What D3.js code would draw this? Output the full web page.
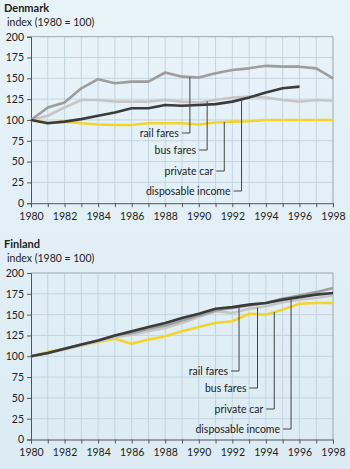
<!DOCTYPE html>
<html>
<head>
<meta charset="utf-8">
<script src="https://cdn.jsdelivr.net/npm/d3@7"></script>
<style>
  html, body { margin: 0; padding: 0; background: #e0eef6; }
  svg { display: block; font-family: Lato, "Open Sans", sans-serif; }
</style>
</head>
<body>
<div id="chart"></div>
<script>
// --- Data ---
const years = d3.range(1980, 1999);
const yTicks = [0, 25, 50, 75, 100, 125, 150, 175, 200];
const xTickLabels = [1980, 1982, 1984, 1986, 1988, 1990, 1992, 1994, 1996, 1998];
const seriesNames = ["rail fares", "bus fares", "private car", "disposable income"];

const dkRail   = [100, 115, 121, 138, 149, 144, 146, 146, 157, 152, 151, 156, 160, 162, 165, 164, 164, 162, 150];
const dkBus    = [100, 105, 115, 124, 124, 122, 122, 122, 124, 122, 121, 124, 127, 128, 127, 124, 122, 124, 123];
const dkCar    = [100, 97, 98, 96, 94.5, 94, 94, 96, 96, 96, 94.5, 97, 98, 98.5, 100, 100, 100, 100, 100];
const dkIncome = [100, 96, 98, 101, 105, 109, 114, 114, 118, 117, 118, 119, 122, 127, 133, 138, 140, null, null];

const fiRail   = [100, 104, 109, 114, 119, 125, 128, 133, 137, 143, 149, 155, 158, 161, 164, 169, 173, 177, 182];
const fiBus    = [100, 104, 108, 113, 118, 123, 126, 130, 134, 140, 147, 154, 152, 157, 160, 165, 168, 170, 173];
const fiCar    = [100, 105, 109, 113, 117, 121, 115, 120, 124, 130, 135, 140, 142, 151, 150, 156, 163, 164, 164];
const fiIncome = [100, 104, 109, 114, 119, 125, 130, 135, 140, 146, 151, 157, 159, 162, 164, 168, 171, 174, 176];

const colors = { "rail fares": "#9d9d9d", "bus fares": "#c6c6c6", "private car": "#f1d52c", "disposable income": "#3b3b3b" };
const drawOrder = ["private car", "bus fares", "rail fares", "disposable income"];

const width = 350, height = 469;
const svg = d3.select("#chart").append("svg")
  .attr("width", width)
  .attr("height", height);

const grad = svg.append("defs").append("linearGradient")
  .attr("id", "bg").attr("x1", 0).attr("y1", 0).attr("x2", 0).attr("y2", 1);
grad.append("stop").attr("offset", 0).attr("stop-color", "#e8f3f9");
grad.append("stop").attr("offset", 1).attr("stop-color", "#dcebf4");
svg.append("rect").attr("width", width).attr("height", height).attr("fill", "url(#bg)");

function drawPanel(opts) {
  const { title, top, data, leaderYears, labelYs } = opts;
  const x = d3.scaleLinear().domain([1980, 1998]).range([31, 333]);
  const y = d3.scaleLinear().domain([0, 200]).range([top + 166.5, top]);
  const g = svg.append("g");

  // titles
  g.append("text").attr("x", 4).attr("y", top - 25)
    .attr("font-size", 11).attr("font-weight", "bold").attr("fill", "#222").text(title);
  g.append("text").attr("x", 7).attr("y", top - 11)
    .attr("font-size", 10.5).attr("fill", "#222").text("index (1980 = 100)");

  // grid
  g.append("g").selectAll("line").data(years.slice(1, -1)).join("line")
    .attr("x1", d => x(d)).attr("x2", d => x(d))
    .attr("y1", y(0)).attr("y2", y(200))
    .attr("stroke", "#c4d4de").attr("stroke-width", 1);
  g.append("g").selectAll("line").data(yTicks.slice(1, -1)).join("line")
    .attr("x1", x(1980)).attr("x2", x(1998))
    .attr("y1", d => y(d)).attr("y2", d => y(d))
    .attr("stroke", "#c4d4de").attr("stroke-width", 1);

  // frame top/right
  g.append("path")
    .attr("d", `M${x(1980)},${y(200)}H${x(1998)}V${y(0)}`)
    .attr("fill", "none").attr("stroke", "#9aa6ad").attr("stroke-width", 1);

  // axes
  const xAxis = g.append("g").attr("transform", `translate(0,${y(0)})`)
    .call(d3.axisBottom(x).tickValues(years).tickSize(4)
      .tickFormat(d => xTickLabels.includes(d) ? d : ""));
  const yAxis = g.append("g").attr("transform", `translate(${x(1980)},0)`)
    .call(d3.axisLeft(y).tickValues(yTicks).tickSize(4));
  [xAxis, yAxis].forEach(a => {
    a.select(".domain").attr("stroke", "#555");
    a.selectAll(".tick line").attr("stroke", "#555");
    a.selectAll("text").attr("font-size", 10.5).attr("fill", "#222")
      .attr("font-family", "Lato, 'Open Sans', sans-serif");
  });
  xAxis.selectAll("text").attr("dy", "0.95em");
  yAxis.selectAll("text").attr("x", -7);

  // lines
  const line = d3.line()
    .defined(d => d[1] != null)
    .x(d => x(d[0])).y(d => y(d[1]));
  drawOrder.forEach(name => {
    g.append("path")
      .datum(years.map((yr, i) => [yr, data[name][i]]))
      .attr("d", line)
      .attr("fill", "none")
      .attr("stroke", colors[name])
      .attr("stroke-width", 2.6)
      .attr("stroke-linejoin", "round");
  });

  // leader labels
  seriesNames.forEach((name, i) => {
    const ly = leaderYears[i];
    const vals = data[name];
    const i0 = Math.floor(ly - 1980), t = ly - 1980 - i0;
    const v = vals[i0] + (vals[i0 + 1] - vals[i0]) * t;
    const lx = x(ly);
    const yLab = labelYs[i];
    g.append("path")
      .attr("d", `M${lx - 8},${yLab}H${lx}V${y(v)}`)
      .attr("fill", "none").attr("stroke", "#444").attr("stroke-width", 1);
    g.append("text")
      .attr("x", lx - 11).attr("y", yLab)
      .attr("dy", "0.35em")
      .attr("text-anchor", "end")
      .attr("font-size", 10.5).attr("fill", "#222")
      .text(name);
  });
}

drawPanel({
  title: "Denmark",
  top: 36.7,
  data: { "rail fares": dkRail, "bus fares": dkBus, "private car": dkCar, "disposable income": dkIncome },
  leaderYears: [1989.47, 1990.5, 1991.52, 1992.55],
  labelYs: [133, 150, 171, 191]
});

drawPanel({
  title: "Finland",
  top: 273,
  data: { "rail fares": fiRail, "bus fares": fiBus, "private car": fiCar, "disposable income": fiIncome },
  leaderYears: [1992.4, 1993.5, 1994.5, 1995.5],
  labelYs: [371, 388, 409, 429]
});
</script>
</body>
</html>
